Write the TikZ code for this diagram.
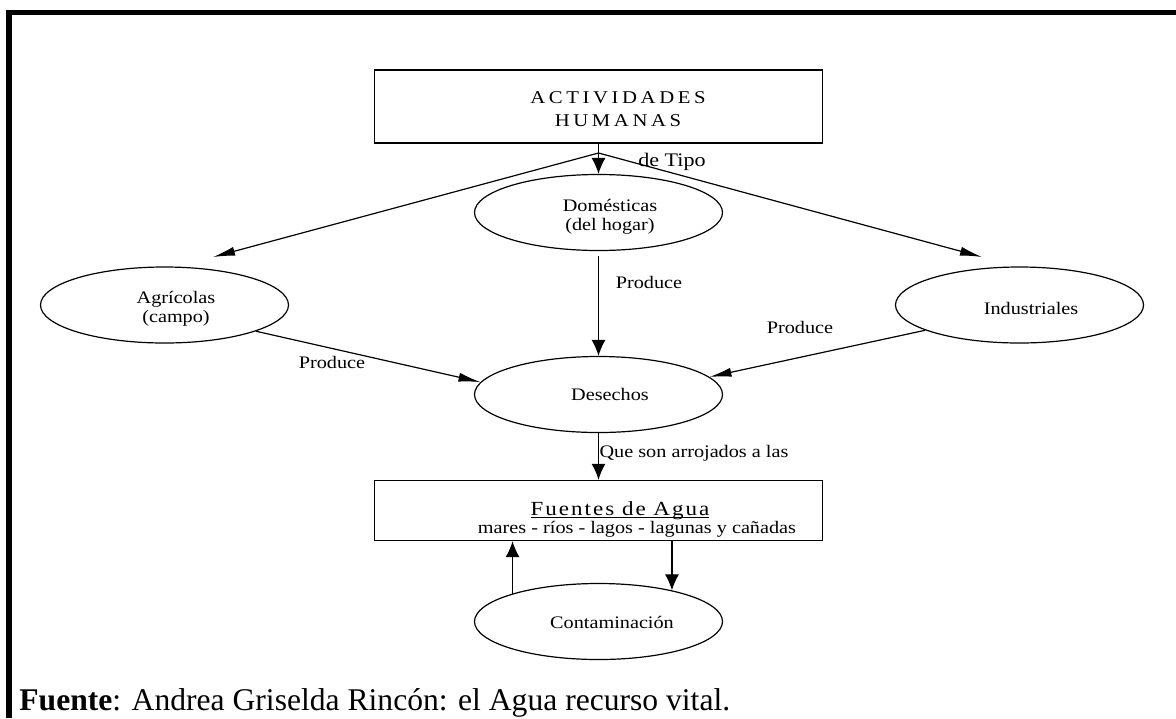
\documentclass[tikz,border=0pt]{standalone}
\usepackage{fontspec}
\setmainfont{Liberation Serif}
\newfontfamily\diafont[FakeStretch=1.15]{Liberation Serif}
\newfontfamily\widefont[FakeStretch=1.15,LetterSpace=20]{Liberation Serif}
\newfontfamily\agufont[FakeStretch=1.15,LetterSpace=10]{Liberation Serif}
\usetikzlibrary{shapes.geometric,arrows.meta}

\begin{document}
\begin{tikzpicture}[x=0.5pt,y=-0.5pt,
  caja/.style={draw,line width=0.7pt,minimum width=224pt,inner sep=0pt},
  elipse/.style={draw,ellipse,line width=0.6pt,minimum width=124pt,minimum height=38pt,inner sep=0pt},
  txt/.style={inner sep=0pt,align=center,font=\diafont\fontsize{8.8}{9.5}\selectfont},
  flecha/.style={line width=0.6pt,-{Latex[length=8pt,width=7pt]}},
  flechad/.style={line width=0.6pt,-{Latex[length=11pt,width=4.5pt]}}]

  \useasboundingbox (0,0) rectangle (1176,718);

  % Outer frame, open at right and bottom
  \draw[line width=2.75pt] (9,718) -- (9,12.25) -- (1176,12.25);

  % Boxes
  \node[caja,minimum height=36.5pt] (act) at (598.5,106.5) {};
  \node[txt,font=\widefont\fontsize{9}{11.5}\selectfont] (acttxt) at (618,109.5) {ACTIVIDADES\\HUMANAS};
  \node[caja,minimum height=30pt] (fuentes) at (598.5,510.5) {};
  \node[txt,anchor=base,font=\agufont\fontsize{10}{12}\selectfont] (ftitle) at (620,515) {\underline{\smash{Fuentes de Agua}}};
  \node[txt,anchor=base] (fsub) at (637,533) {mares - ríos - lagos - lagunas y cañadas};

  % Ellipses
  \node[elipse] (dom) at (598.5,212.5) {};
  \node[elipse] (agr) at (164.5,305) {};
  \node[elipse] (ind) at (1019.5,305) {};
  \node[elipse] (des) at (598.5,394.5) {};
  \node[elipse] (cont) at (598.5,621.5) {};

  % Texts inside the ellipses
  \node[txt] (domtxt) at (610,216.5) {Domésticas\\(del hogar)};
  \node[txt] (agrtxt) at (176,308.5) {Agrícolas\\(campo)};
  \node[txt] (indtxt) at (1031,308) {Industriales};
  \node[txt] (destxt) at (610,394) {Desechos};
  \node[txt] (conttxt) at (612,622) {Contaminación};

  % Connectors
  \coordinate (split) at (598.5,153);
  \coordinate (agrtip) at (213,257);
  \coordinate (indtip) at (982,257);
  \draw[flecha] (act.south) -- (dom.north);
  \draw[flechad] (split) -- (agrtip);
  \draw[flechad] (split) -- (indtip);
  \draw[flecha,shorten <=2.5pt] (dom) -- (des);
  \draw[flechad] (agr.-16) -- (des.174);
  \draw[flechad] (ind.195) -- (des.9);
  \draw[flecha] (des) -- (fuentes);
  \draw[flecha] (cont.162.5) -- (cont.162.5 |- fuentes.south);
  \draw[flecha] (cont.23 |- fuentes.south) -- (cont.23);

  % Connector labels
  \node[txt,anchor=base,font=\diafont\fontsize{9.6}{10}\selectfont] (tipo) at (672,166) {de Tipo};
  \foreach \x/\y/\n in {649/288/proda,332/368/prodb,800/333/prodc}
    \node[txt,anchor=base] (\n) at (\x,\y) {Produce};
  \node[txt,anchor=base] (arroj) at (694,457) {Que son arrojados a las};

  % Source line
  \node[anchor=base west,inner sep=0pt,font=\fontsize{15.8}{18}\selectfont] (fuente) at (19,710) {\textbf{Fuente}: Andrea Griselda Rincón: el Agua recurso vital.};

\end{tikzpicture}
\end{document}
